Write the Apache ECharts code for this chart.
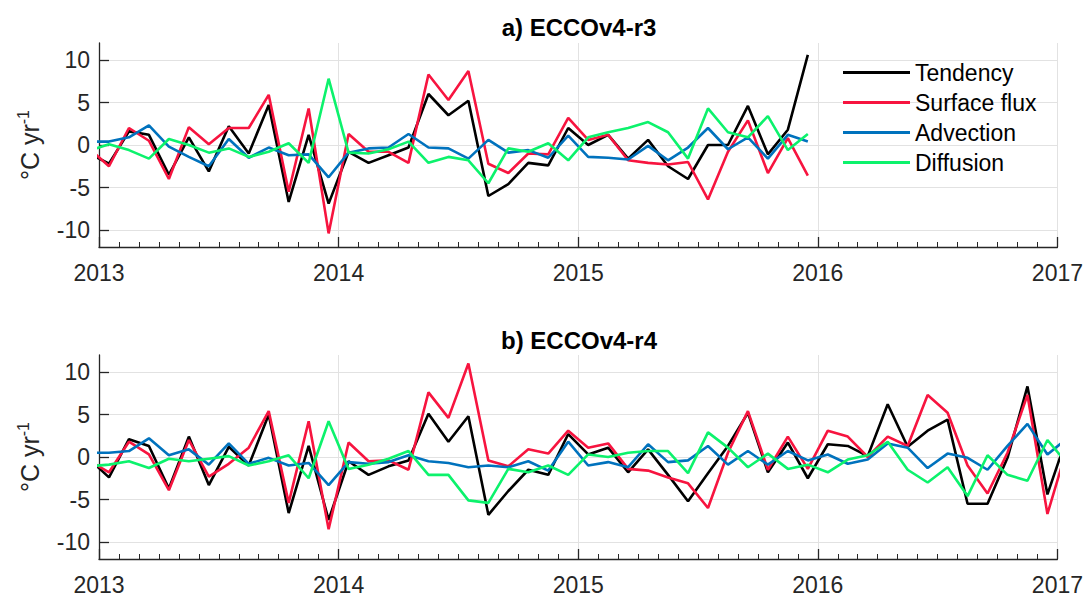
<!DOCTYPE html>
<html><head><meta charset="utf-8">
<script src="https://cdn.jsdelivr.net/npm/echarts@6/dist/echarts.min.js"></script>
<style>html,body{margin:0;padding:0;background:#fff}#c{width:1086px;height:596px}</style>
</head><body><div id="c"></div>
<script>
// ---------------- data ----------------
const seriesNames = ['Tendency', 'Surface flux', 'Advection', 'Diffusion'];
const panelTitles = ['a) ECCOv4-r3', 'b) ECCOv4-r4'];
const yTickValues = [-10, -5, 0, 5, 10];
const yearTicks = [2013, 2014, 2015, 2016, 2017];

// monthly records; panel a: Dec 2012 .. Dec 2015, panel b: Dec 2012 .. Jan 2017
const startA = [2012, 12], countA = 37;
const startB = [2012, 12], countB = 50;

const tendencyA = [-1.0, -2.2, 1.6, 1.2, -3.5, 0.9, -3.1, 2.2, -1.0, 4.7, -6.7, 1.2, -6.9,
  -0.8, -2.1, -1.2, -0.3, 6.0, 3.5, 5.2, -6.0, -4.6, -2.1, -2.4, 2.0,
  0.0, 1.2, -1.6, 0.6, -2.5, -4.0, 0.0, 0.0, 4.6, -1.1, 1.8, 10.6];
const surfaceA = [-0.4, -2.5, 2.0, 0.5, -4.0, 2.1, 0.1, 2.0, 2.0, 5.9, -5.5, 4.3, -10.4,
  1.3, -0.8, -0.8, -2.1, 8.3, 5.3, 8.7, -2.2, -3.3, -1.0, -1.1, 3.2,
  0.6, 1.2, -1.8, -2.1, -2.3, -2.0, -6.4, -0.8, 2.9, -3.3, 0.8, -3.6];
const advectionA = [0.4, 0.4, 0.9, 2.3, -0.2, -1.4, -2.5, 0.7, -1.5, -0.3, -1.2, -1.1, -3.8,
  -0.9, -0.4, -0.3, 1.3, -0.3, -0.4, -1.6, 0.6, -0.9, -0.6, -1.5, 1.1,
  -1.4, -1.5, -1.7, -0.1, -1.8, -0.3, 2.0, -0.5, 0.9, -1.6, 1.2, 0.4];
const diffusionA = [-0.7, 0.1, -0.6, -1.6, 0.7, 0.0, -0.9, -0.4, -1.4, -0.8, 0.2, -2.1, 7.8,
  -0.9, -1.0, -0.5, 0.4, -2.1, -1.4, -1.8, -4.5, -0.4, -0.8, 0.2, -1.8,
  0.9, 1.5, 2.0, 2.7, 1.5, -1.6, 4.3, 1.5, 0.9, 3.4, -0.6, 1.3];

const tendencyB = [-0.2, -2.4, 2.1, 1.3, -3.7, 2.4, -3.3, 1.2, -1.0, 5.0, -6.6, 1.3, -7.4,
  -0.5, -2.1, -1.1, -0.4, 5.1, 1.8, 4.8, -6.8, -4.0, -1.5, -2.1, 2.7,
  0.3, 1.1, -1.8, 0.9, -2.1, -5.2, -1.9, 1.3, 5.2, -1.8, 1.7, -2.5,
  1.5, 1.3, 0.1, 6.2, 1.2, 3.1, 4.4, -5.5, -5.5, -0.1, 8.3, -4.4, 2.5];
const surfaceB = [-0.4, -1.8, 1.8, 0.3, -3.9, 2.0, -2.3, -0.8, 1.1, 5.4, -5.4, 4.2, -8.5,
  1.7, -0.5, -0.4, -1.5, 7.6, 4.6, 11.0, -0.4, -1.1, 0.9, 0.4, 3.1,
  1.1, 1.6, -1.4, -1.6, -2.4, -3.1, -6.0, 0.5, 5.4, -1.5, 2.4, -1.4,
  3.1, 2.4, 0.0, 2.4, 1.3, 7.3, 5.2, -1.0, -4.3, 0.5, 7.3, -6.7, 1.2];
const advectionB = [0.5, 0.5, 0.7, 2.2, 0.2, 0.9, -0.9, 1.6, -0.8, -0.1, -1.0, -0.7, -3.3,
  -0.6, -0.8, -0.6, 0.2, -0.5, -0.7, -1.2, -1.0, -1.2, -0.5, -1.6, 1.8,
  -1.0, -0.6, -1.2, 1.5, -0.6, -0.4, 1.3, -0.9, 0.7, -0.9, 0.7, -0.4,
  0.3, -0.8, -0.3, 1.6, 1.1, -1.3, 0.4, -0.1, -1.5, 1.3, 3.9, 0.3, 2.2];
const diffusionB = [-1.1, -0.9, -0.5, -1.3, -0.2, -0.5, -0.2, 0.1, -1.0, -0.5, 0.2, -2.5, 4.2,
  -1.4, -0.9, -0.2, 0.7, -2.1, -2.1, -5.1, -5.4, -1.4, -1.8, -1.0, -2.1,
  0.3, 0.0, 0.5, 0.7, 0.7, -1.9, 2.9, 1.1, -1.2, 0.4, -1.4, -0.9,
  -1.8, -0.3, 0.2, 1.8, -1.5, -3.0, -1.2, -4.6, 0.2, -2.1, -2.8, 2.0, -0.8];

// ---------------- helpers ----------------
// mid-month decimal year for each month of a record
function monthTimes(start, count) {
  const out = [];
  for (let i = 0; i < count; i++) {
    const m0 = (start[0] * 12 + (start[1] - 1)) + i;
    const y = Math.floor(m0 / 12), m = m0 % 12;
    out.push(y + (m + 0.5) / 12);
  }
  return out;
}
const timesA = monthTimes(startA, countA);
const timesB = monthTimes(startB, countB);
const pair = (t, v) => v.map((val, i) => [t[i], val]);

const colors = ['#000000', '#f7143f', '#0072bd', '#0cf26c'];
const FONT = 'Liberation Sans, Arial, Helvetica, sans-serif';
const AX = '#262626';
const GRIDC = '#e2e2e2';

const grids = [
  { left: 99, right: 27, top: 43, height: 204 },
  { left: 99, right: 27, top: 355, height: 204 }
];

function xAxis(i) {
  return {
    type: 'value', gridIndex: i, min: 2013, max: 2017, interval: 1,
    axisLine: { show: true, onZero: false, lineStyle: { color: AX, width: 1.3 } },
    axisTick: { show: true, inside: true, length: 10, lineStyle: { color: AX, width: 1.3 } },
    minorTick: { show: true, splitNumber: 12, length: 5, lineStyle: { color: AX, width: 1 } },
    axisLabel: { fontSize: 23, color: AX, fontFamily: FONT, margin: 14, formatter: v => String(v) },
    splitLine: { show: true, lineStyle: { color: GRIDC, width: 1 } }
  };
}
function yAxis(i) {
  return {
    type: 'value', gridIndex: i, min: -12, max: 12,
    name: '°C yr{sup|-1}', nameLocation: 'middle', nameGap: 54, nameRotate: 90,
    nameTextStyle: {
      fontSize: 25, color: AX, fontFamily: FONT,
      rich: { sup: { fontSize: 16, color: AX, fontFamily: FONT, verticalAlign: 'top', padding: [0, 0, 14, 0] } }
    },
    axisLine: { show: true, onZero: false, lineStyle: { color: AX, width: 1.3 } },
    axisTick: { show: true, inside: true, length: 10, customValues: yTickValues, lineStyle: { color: AX, width: 1.3 } },
    axisLabel: { fontSize: 23, color: AX, fontFamily: FONT, margin: 9, customValues: yTickValues },
    splitLine: { show: true, lineStyle: { color: GRIDC, width: 1 } }
  };
}

const panelData = [
  [pair(timesA, tendencyA), pair(timesA, surfaceA), pair(timesA, advectionA), pair(timesA, diffusionA)],
  [pair(timesB, tendencyB), pair(timesB, surfaceB), pair(timesB, advectionB), pair(timesB, diffusionB)]
];

const series = [];
panelData.forEach((sets, p) => {
  sets.forEach((d, s) => {
    series.push({
      name: seriesNames[s], type: 'line', xAxisIndex: p, yAxisIndex: p,
      data: d, showSymbol: false, symbol: 'none', clip: true,
      color: colors[s], itemStyle: { color: colors[s] },
      lineStyle: { color: colors[s], width: 2.6 },
      animation: false
    });
  });
});

const chart = echarts.init(document.getElementById('c'), null, { renderer: 'svg' });
chart.setOption({
  backgroundColor: '#ffffff',
  animation: false,
  grid: grids,
  xAxis: [xAxis(0), xAxis(1)],
  yAxis: [yAxis(0), yAxis(1)],
  legend: {
    data: seriesNames, orient: 'vertical', left: 838, top: 56,
    icon: 'rect', itemWidth: 67, itemHeight: 3, itemGap: 7,
    textStyle: { fontSize: 23, color: '#000', fontFamily: FONT },
    selectedMode: false
  },
  graphic: panelTitles.map((t, i) => ({
    type: 'text', x: 579, y: i === 0 ? 27 : 340,
    style: { text: t, fill: '#000', font: 'bold 24px ' + FONT, textAlign: 'center', textVerticalAlign: 'middle' }
  })),
  series: series
});
</script></body></html>
